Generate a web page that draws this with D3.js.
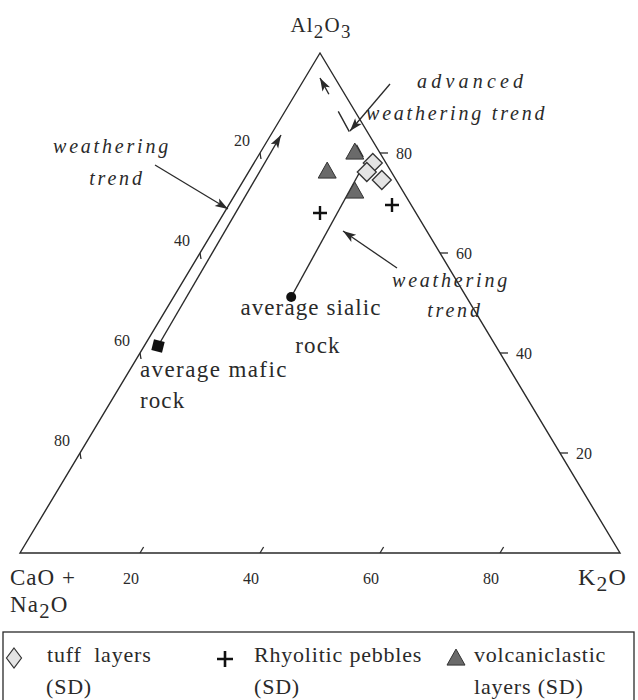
<!DOCTYPE html>
<html><head><meta charset="utf-8">
<script src="https://cdn.jsdelivr.net/npm/d3@7/dist/d3.min.js"></script>
<style>
body{margin:0;background:#fff}
svg{display:block}
text{font-family:"Liberation Serif","Times New Roman",serif;fill:#2a2a2a;white-space:pre}
</style>
</head><body>
<svg id="chart" width="638" height="700"></svg>
<script>
// ---------- DATA (ternary: [Al2O3, CaO+Na2O, K2O] in %) ----------
const bottomTicks = [20, 40, 60, 80];   // K2O along base
const leftTicks   = [20, 40, 60, 80];   // CaO+Na2O along left side
const rightTicks  = [80, 60, 40, 20];   // Al2O3 along right side

const tuffLayers           = [[78.0, 2.2, 19.8], [76.2, 4.1, 19.7], [74.6, 2.4, 23.0]];
const rhyoliticPebbles     = [[68.0, 16.0, 16.0], [69.6, 3.2, 27.2]];
const volcaniclasticLayers = [[80.0, 4.2, 15.8], [76.2, 10.7, 13.1], [72.2, 8.1, 19.7]];
const averageMafic  = [41.4, 56.3, 2.3];
const averageSialic = [51.2, 29.2, 19.6];
const maficTrendEnd  = [83.6, 14.7, 1.7];
const sialicTrendEnd = [77.0, 4.5, 18.5];
const advancedTrend  = [[79.2, 3.2, 17.6], [95.0, 2.5, 2.5]];

// ---------- SETUP ----------
const svg = d3.select("#chart");
const ink = "#2a2a2a";
const xS = d3.scaleLinear().domain([0, 100]).range([20, 620]);
const yS = d3.scaleLinear().domain([0, 100]).range([553, 53]);
const proj = d => [xS(d[2] + d[0] / 2), yS(d[0])];

const defs = svg.append("defs");
defs.append("marker").attr("id", "arr")
  .attr("viewBox", "-14 -6 16 12").attr("refX", 0).attr("refY", 0)
  .attr("markerUnits", "userSpaceOnUse").attr("markerWidth", 16).attr("markerHeight", 12)
  .attr("orient", "auto")
  .append("path").attr("d", "M0,0 L-13,-4.3 L-10,0 L-13,4.3 Z").attr("fill", ink);

// ---------- TRIANGLE FRAME ----------
const A = proj([100, 0, 0]), B = proj([0, 100, 0]), C = proj([0, 0, 100]);
svg.append("path").attr("d", `M${A}L${B}L${C}Z`)
  .attr("fill", "none").attr("stroke", ink).attr("stroke-width", 1.4);

// ticks
const g = svg.append("g").attr("stroke", ink).attr("stroke-width", 1.3);
bottomTicks.forEach(v => {
  const p = proj([0, 100 - v, v]);
  g.append("line").attr("x1", p[0]).attr("y1", p[1]).attr("x2", p[0] + 3.6).attr("y2", p[1] - 6);
  svg.append("text").attr("x", p[0] - 9).attr("y", p[1] + 31).attr("text-anchor", "middle")
    .attr("font-size", 16).text(v);
});
leftTicks.forEach(v => {
  const p = proj([100 - v, v, 0]);
  g.append("line").attr("x1", p[0]).attr("y1", p[1]).attr("x2", p[0] + 1).attr("y2", p[1] + 6);
  svg.append("text").attr("x", p[0] - 10).attr("y", p[1] - 7).attr("text-anchor", "end")
    .attr("font-size", 16).text(v);
});
rightTicks.forEach(v => {
  const p = proj([v, 0, 100 - v]);
  g.append("line").attr("x1", p[0]).attr("y1", p[1]).attr("x2", p[0] + 8).attr("y2", p[1]);
  svg.append("text").attr("x", p[0] + 16).attr("y", p[1] + 5.5)
    .attr("font-size", 16).text(v);
});

// corner labels with subscripts
function chem(x, y, parts, size, anchor) {
  const t = svg.append("text").attr("x", x).attr("y", y).attr("font-size", size)
    .attr("letter-spacing", 1.2).attr("text-anchor", anchor || "start");
  let sub = false;
  parts.forEach(s => {
    const isSub = /^\d$/.test(s);
    const ts = t.append("tspan").text(s);
    if (isSub && !sub) { ts.attr("dy", 6).attr("font-size", size * 0.9); sub = true; }
    else if (isSub) { ts.attr("font-size", size * 0.9); }
    else if (!isSub && sub) { ts.attr("dy", -6); sub = false; }
  });
  return t;
}
chem(A[0] + 1, 32, ["Al", "2", "O", "3"], 21, "middle");
svg.append("text").attr("x", 10).attr("y", 585).attr("font-size", 23)
  .attr("letter-spacing", 1).text("CaO +");
chem(10, 612, ["Na", "2", "O"], 23);
chem(578, 585, ["K", "2", "O"], 24);

// ---------- TREND LINES ----------
const line = d3.line().x(d => proj(d)[0]).y(d => proj(d)[1]);
svg.append("path").attr("d", line([averageMafic, maficTrendEnd]))
  .attr("stroke", ink).attr("stroke-width", 1.4).attr("fill", "none").attr("marker-end", "url(#arr)");
svg.append("path").attr("d", line([averageSialic, sialicTrendEnd]))
  .attr("stroke", ink).attr("stroke-width", 1.4).attr("fill", "none");
svg.append("path").attr("d", line(advancedTrend))
  .attr("stroke", ink).attr("stroke-width", 1.4).attr("fill", "none")
  .attr("stroke-dasharray", "14,15,23,19.5,40").attr("marker-end", "url(#arr)");

// ---------- ANNOTATIONS ----------
function ann(x1, y1, x2, y2) {
  svg.append("line").attr("x1", x1).attr("y1", y1).attr("x2", x2).attr("y2", y2)
    .attr("stroke", ink).attr("stroke-width", 1.3).attr("marker-end", "url(#arr)");
}
function itxt(x, y, s, anchor, ls) {
  return svg.append("text").attr("x", x).attr("y", y).attr("font-size", 20).attr("font-style", "italic")
    .attr("letter-spacing", ls || 2.8).attr("text-anchor", anchor || "start").text(s);
}
itxt(112, 153, "weathering", "middle");
itxt(117, 185, "trend", "middle");
ann(155, 165, 228, 209);

itxt(417, 88, "advanced", "start", 4.2);
itxt(366, 120, "weathering trend");
ann(390, 84, 350, 131);

itxt(451, 287, "weathering", "middle");
itxt(455, 317, "trend", "middle");
ann(397, 268, 343, 231);

function rtxt(x, y, s, anchor, ls) {
  return svg.append("text").attr("x", x).attr("y", y).attr("font-size", 23)
    .attr("letter-spacing", ls || 1.1).attr("text-anchor", anchor || "start").text(s);
}
rtxt(311, 315, "average sialic", "middle");
rtxt(318, 353, "rock", "middle");
rtxt(140, 377, "average mafic", "start", 1.4);
rtxt(140, 408, "rock");

// ---------- MARKERS ----------
const triPath = (w, h) => `M0,${-h * 0.62}L${w / 2},${h * 0.38}L${-w / 2},${h * 0.38}Z`;
const diaPath = (w, h) => `M0,${-h / 2}L${w / 2},0L0,${h / 2}L${-w / 2},0Z`;
const plusPath = r => `M${-r},0H${r}M0,${-r}V${r}`;

svg.append("g").selectAll("path").data(volcaniclasticLayers).join("path")
  .attr("transform", d => `translate(${proj(d)})`).attr("d", triPath(18, 16))
  .attr("fill", "#6a6a6a").attr("stroke", "#333").attr("stroke-width", 1);
svg.append("g").selectAll("path").data(rhyoliticPebbles).join("path")
  .attr("transform", d => `translate(${proj(d)})`).attr("d", plusPath(7))
  .attr("stroke", "#111").attr("stroke-width", 2.4).attr("fill", "none");
svg.append("g").selectAll("path").data(tuffLayers).join("path")
  .attr("transform", d => `translate(${proj(d)})`).attr("d", diaPath(19, 19))
  .attr("fill", "#e4e4e4").attr("stroke", "#333").attr("stroke-width", 1.3);

svg.append("rect").datum(averageMafic)
  .attr("x", -5.5).attr("y", -5.5).attr("width", 11).attr("height", 11)
  .attr("transform", d => `translate(${proj(d)}) rotate(14)`).attr("fill", "#111");
svg.append("circle").datum(averageSialic)
  .attr("cx", d => proj(d)[0]).attr("cy", d => proj(d)[1]).attr("r", 5).attr("fill", "#111");

// ---------- LEGEND ----------
svg.append("rect").attr("x", 3).attr("y", 632).attr("width", 631).attr("height", 80)
  .attr("fill", "none").attr("stroke", ink).attr("stroke-width", 1.3);
const lg = svg.append("g");
lg.append("path").attr("transform", "translate(14,658)").attr("d", diaPath(15, 20))
  .attr("fill", "#e4e4e4").attr("stroke", "#333").attr("stroke-width", 1.2);
lg.append("path").attr("transform", "translate(225,659)").attr("d", plusPath(8))
  .attr("stroke", "#111").attr("stroke-width", 2.6);
lg.append("path").attr("transform", "translate(456,659)").attr("d", triPath(18, 16))
  .attr("fill", "#6a6a6a").attr("stroke", "#333").attr("stroke-width", 1);
const ltxt = (x, y, s) => lg.append("text").attr("x", x).attr("y", y).attr("font-size", 22)
  .attr("letter-spacing", 0.8).text(s);
ltxt(47, 662, "tuff  layers"); ltxt(46, 694, "(SD)");
ltxt(254, 662, "Rhyolitic pebbles"); ltxt(254, 694, "(SD)");
ltxt(474, 662, "volcaniclastic"); ltxt(474, 694, "layers (SD)");
</script>
</body></html>
